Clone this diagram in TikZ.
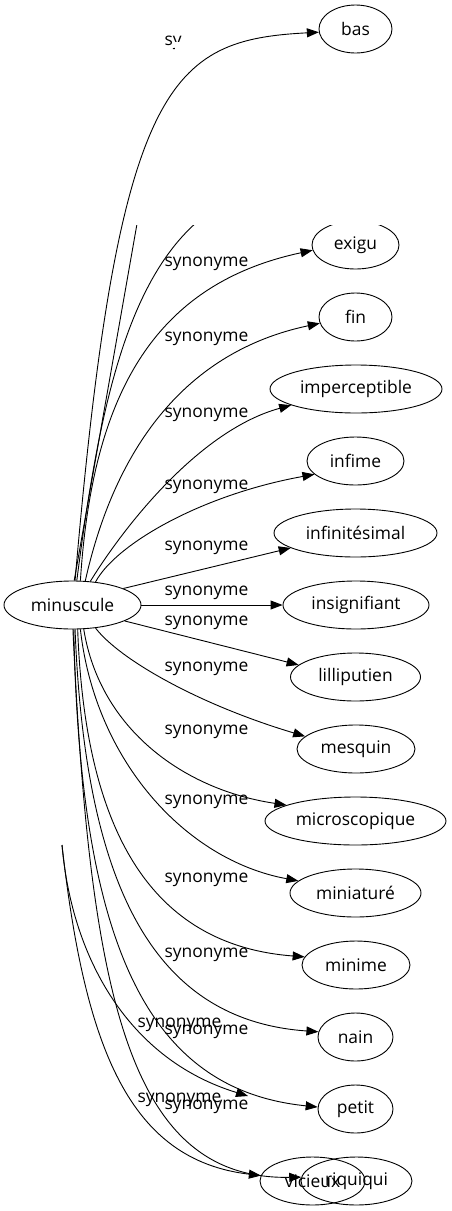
\documentclass[tikz,border=0pt]{standalone}
\usepackage{fontspec}
\setmainfont{Open Sans}
\usetikzlibrary{arrows.meta,shapes.geometric}
\begin{document}
\begin{tikzpicture}[font=\fontsize{17.4}{20}\selectfont,x=1pt,y=-1pt,
 word/.style={draw,ellipse,line width=.9pt,inner sep=0pt,minimum height=48pt},
 syn/.style={inner sep=0pt},
 edge/.style={line width=.9pt,-{Triangle[length=12pt,width=9pt]}}]
\useasboundingbox (0,0) rectangle (452,1211);
\node[word,minimum width=73pt] (bas) at (355.5,29) {bas};
\node[word,minimum width=137pt] (m) at (72.5,605) {minuscule};
\draw[edge] (m.84) .. controls (118,80) and (170,40) .. (bas.185);
\begin{scope}
\clip (160,20) -- (181,20) -- (181,41) -- (174,41) -- (174,50) -- (160,50) -- cycle;
\node[syn] (sbas) at (206.5,43) {synonyme};
\end{scope}
\begin{scope}
\clip (0,225) rectangle (452,1211);
\foreach \n/\t/\x/\y/\w in {exigu/exigu/355.5/245/87,fin/fin/355.5/317/73,
 imp/imperceptible/356/389/172,infime/infime/355.5/461/97,
 infinit/infinitésimal/355.5/533/163,insign/insignifiant/356/605/146,
 lil/lilliputien/355.5/677/130,mes/mesquin/356/749/118,
 mic/microscopique/355.5/821/181,mina/miniaturé/355.5/893/131,
 minime/minime/356/965/108,nain/nain/355.5/1037/75,petit/petit/355.5/1109/75,
 vic/vicieux/312.5/1181/105,riq/riquiqui/356.5/1181/111}
 \node[word,minimum width=\w pt] (\n) at (\x,\y) {\t};
\foreach \i/\x/\y in {exigu/206.5/264,fin/206.5/339,imp/206.5/415,infime/206.5/487,
 infinit/206.5/548,insign/206.5/593,lil/206.5/622.5,mes/206.5/669,mic/206.5/732,
 mina/206.5/802,minime/206.5/880,nain/206.5/955,petit/206.5/1031.5,riq/206.5/1106.5,
 gpetit/179.5/1025,gvic/179.5/1100}
 \node[syn] (s\i) at (\x,\y) {synonyme};
\coordinate (gb) at (150,150);
\coordinate (gc) at (220,205);
\coordinate (g) at (62,845);
\coordinate (gp) at (248,1096);
\draw[line width=.9pt] (m.86) -- (gb);
\draw[line width=.9pt] (m.80) .. controls (100,400) and (130,260) .. (gc);
\draw[edge] (m.72) .. controls (92,400) and (150,285) .. (exigu.187);
\draw[edge] (m.62) .. controls (110,470) and (170,355) .. (fin.190);
\draw[edge] (m.53) .. controls (125,525) and (200,430) .. (imp.194);
\draw[edge] (m.45) .. controls (115,545) and (200,495) .. (infime.198);
\draw[edge] (m.18) -- (infinit.193);
\draw[edge] (m.east) -- (insign.west);
\draw[edge] (m.-17) -- (lil.168);
\draw[edge] (m.-45) .. controls (120,660) and (200,705) .. (mes.166);
\draw[edge] (m.-65) .. controls (100,730) and (185,790) .. (mic.167);
\draw[edge] (m.-72) .. controls (95,760) and (185,860) .. (mina.168);
\draw[edge] (m.-78) .. controls (85,830) and (150,945) .. (minime.171);
\draw[edge] (m.-84) .. controls (85,880) and (150,1020) .. (nain.172);
\draw[edge] (m.-87) .. controls (80,950) and (150,1090) .. (petit.177);
\draw[edge] (m.-89) .. controls (90,1000) and (130,1180) .. (riq.176);
\draw[edge] (g) .. controls (72,960) and (130,1060) .. (gp);
\draw[edge] (g) .. controls (85,1050) and (130,1160) .. (vic.174);
\end{scope}
\end{tikzpicture}
\end{document}
